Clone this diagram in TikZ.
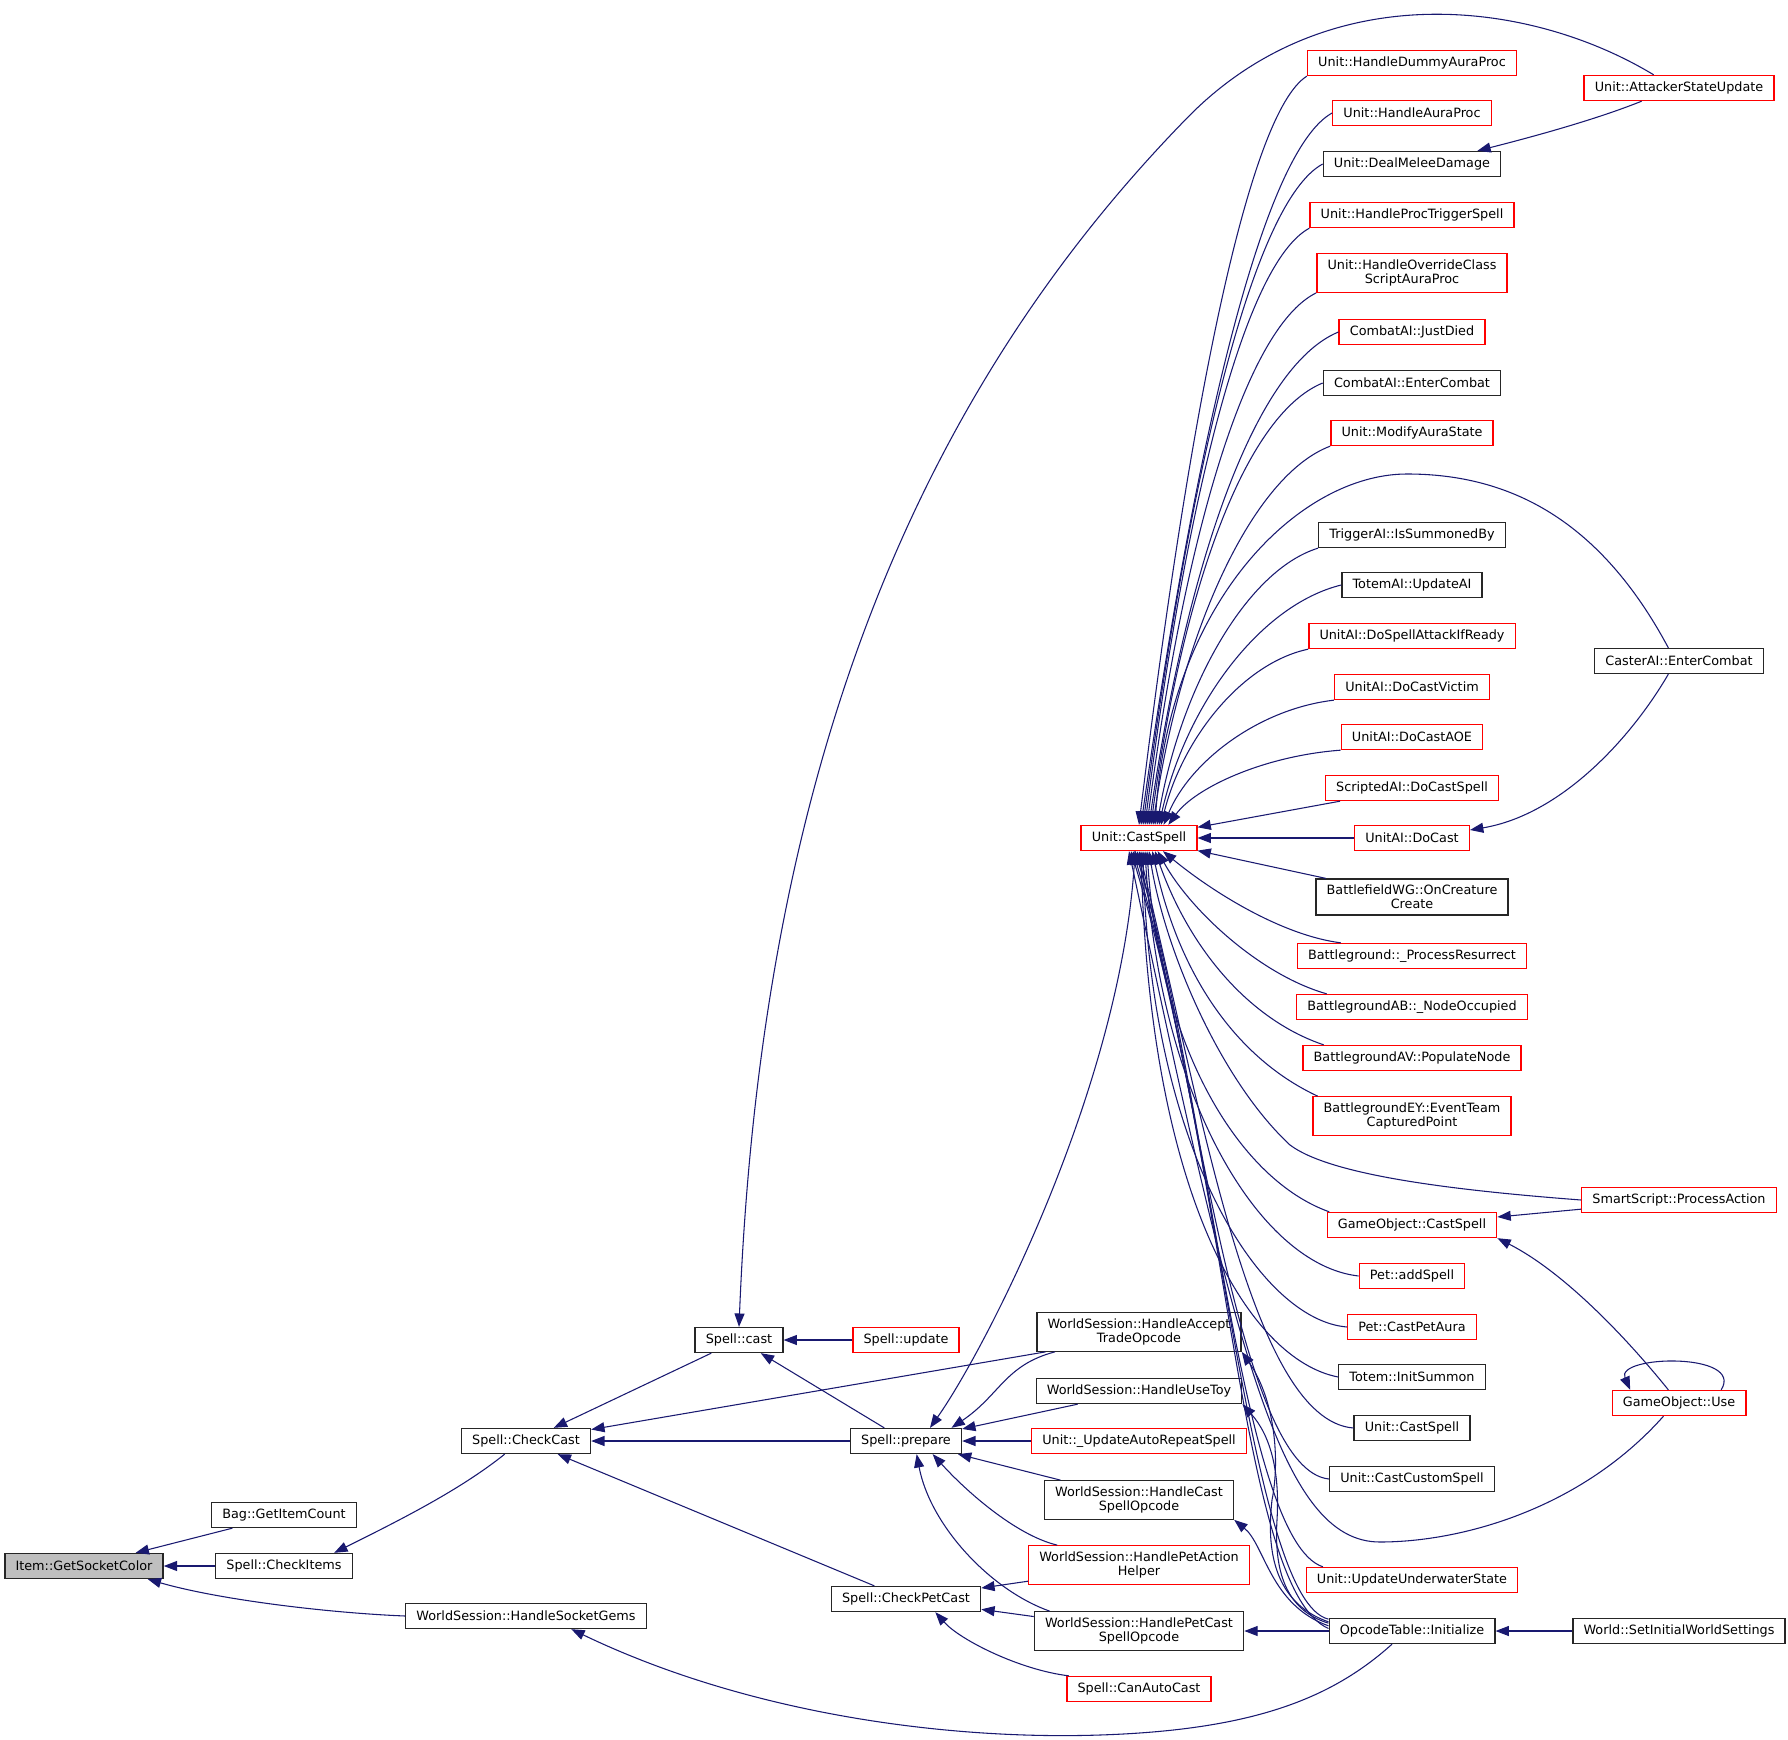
\documentclass[tikz,border=0pt]{standalone}
\usepackage{fontspec}
\setmainfont{DejaVu Sans}
\usepackage{xcolor}
\usetikzlibrary{arrows.meta,calc}

\definecolor{edgeblue}{HTML}{191970}
\definecolor{boxred}{HTML}{FF0000}
\definecolor{rootgray}{HTML}{BFBFBF}

\tikzset{
    fnbox/.style={draw=black!85, fill=white, line width=1pt, inner xsep=8pt, inner ysep=4.5pt,
        minimum height=18.75pt, align=center, font=\fontsize{9.6}{10.5}\selectfont},
    fnred/.style={fnbox, draw=boxred},
    fnroot/.style={fnbox, fill=rootgray},
    callarrow/.style={{Triangle[length=10pt,width=7.5pt]}-, draw=edgeblue, line width=0.8pt},
}

\begin{document}
\begin{tikzpicture}[x=0.75pt,y=-0.75pt]
        \useasboundingbox (0,0) rectangle (1788,1740);

        \node[fnroot] (item) at (84,1566) {Item::GetSocketColor};
        \node[fnbox] (bag) at (284,1515) {Bag::GetItemCount};
        \node[fnbox] (checkitems) at (284,1566) {Spell::CheckItems};
        \node[fnbox] (checkcast) at (526,1441) {Spell::CheckCast};
        \node[fnbox] (socketgems) at (526,1616) {WorldSession::HandleSocketGems};

        \node[fnbox] (cast) at (739,1340) {Spell::cast};
        \node[fnred] (update) at (906,1340) {Spell::update};
        \node[fnbox] (prepare) at (906,1441) {Spell::prepare};
        \node[fnbox] (checkpetcast) at (906,1599) {Spell::CheckPetCast};

        \node[fnbox] (accept) at (1139,1332) {WorldSession::HandleAccept\\TradeOpcode};
        \node[fnbox] (usetoy) at (1139,1391) {WorldSession::HandleUseToy};
        \node[fnred] (autorepeat) at (1139,1441) {Unit::\_UpdateAutoRepeatSpell};
        \node[fnbox] (handlecast) at (1139,1500) {WorldSession::HandleCast\\SpellOpcode};
        \node[fnred] (petaction) at (1139,1565) {WorldSession::HandlePetAction\\Helper};
        \node[fnbox] (petcast) at (1139,1631) {WorldSession::HandlePetCast\\SpellOpcode};
        \node[fnred] (canautocast) at (1139,1689) {Spell::CanAutoCast};
        \node[fnred] (castspell) at (1139,838) {Unit::CastSpell};

        \node[fnred] (dummyaura) at (1412,63) {Unit::HandleDummyAuraProc};
        \node[fnred] (auraproc) at (1412,113) {Unit::HandleAuraProc};
        \node[fnbox] (meleedmg) at (1412,164) {Unit::DealMeleeDamage};
        \node[fnred] (proctrigger) at (1412,215) {Unit::HandleProcTriggerSpell};
        \node[fnred] (overrideclass) at (1412,273) {Unit::HandleOverrideClass\\ScriptAuraProc};
        \node[fnred] (justdied) at (1412,332) {CombatAI::JustDied};
        \node[fnbox] (cbenter) at (1412,383) {CombatAI::EnterCombat};
        \node[fnred] (modaura) at (1412,433) {Unit::ModifyAuraState};
        \node[fnbox] (triggerai) at (1412,535) {TriggerAI::IsSummonedBy};
        \node[fnbox] (totemai) at (1412,585) {TotemAI::UpdateAI};
        \node[fnred] (spellattack) at (1412,636) {UnitAI::DoSpellAttackIfReady};
        \node[fnred] (castvictim) at (1412,687) {UnitAI::DoCastVictim};
        \node[fnred] (castaoe) at (1412,737) {UnitAI::DoCastAOE};
        \node[fnred] (scripted) at (1412,788) {ScriptedAI::DoCastSpell};
        \node[fnred] (docast) at (1412,838) {UnitAI::DoCast};
        \node[fnbox] (battlewg) at (1412,897) {BattlefieldWG::OnCreature\\Create};
        \node[fnred] (bgresurrect) at (1412,956) {Battleground::\_ProcessResurrect};
        \node[fnred] (bgab) at (1412,1007) {BattlegroundAB::\_NodeOccupied};
        \node[fnred] (bgav) at (1412,1058) {BattlegroundAV::PopulateNode};
        \node[fnred] (bgey) at (1412,1116) {BattlegroundEY::EventTeam\\CapturedPoint};
        \node[fnred] (gocast) at (1412,1225) {GameObject::CastSpell};
        \node[fnred] (addspell) at (1412,1276) {Pet::addSpell};
        \node[fnred] (petaura) at (1412,1327) {Pet::CastPetAura};
        \node[fnbox] (initsummon) at (1412,1377) {Totem::InitSummon};
        \node[fnbox] (unitcast2) at (1412,1428) {Unit::CastSpell};
        \node[fnbox] (castcustom) at (1412,1479) {Unit::CastCustomSpell};
        \node[fnred] (underwater) at (1412,1580) {Unit::UpdateUnderwaterState};
        \node[fnbox] (opcode) at (1412,1631) {OpcodeTable::Initialize};

        \node[fnred] (attacker) at (1679,88) {Unit::AttackerStateUpdate};
        \node[fnbox] (casterai) at (1679,661) {CasterAI::EnterCombat};
        \node[fnred] (smartscript) at (1679,1200) {SmartScript::ProcessAction};
        \node[fnred] (gouse) at (1679,1403) {GameObject::Use};
        \node[fnbox] (worldinit) at (1679,1631) {World::SetInitialWorldSettings};

        \draw[callarrow] (item) -- (bag);
        \draw[callarrow] (item) -- (checkitems);
        \draw[callarrow] ([xshift=-12pt]item.south east) .. controls (220,1600) and (330,1613) .. (socketgems.west);
        \draw[callarrow] ([xshift=-14pt]checkitems.north east) .. controls (400,1520) and (460,1490) .. ([xshift=-16pt]checkcast.south);
        \draw[callarrow] ([xshift=34pt]socketgems.south) .. controls (750,1715) and (950,1740) .. (1100,1735)
            .. controls (1250,1730) and (1330,1700) .. ([xshift=-15pt]opcode.south);

        \draw[callarrow] (checkcast) -- (cast);
        \draw[callarrow] (checkcast.10) -- (accept.192);
        \draw[callarrow] (checkcast) -- (prepare);
        \draw[callarrow] (checkcast) -- (checkpetcast);

        \draw[callarrow] (cast.north) .. controls (760,800) and (900,410) .. (1190,115)
            .. controls (1330,-25) and (1530,0) .. ([xshift=-19pt]attacker.north);
        \draw[callarrow] (cast) -- (update);
        \draw[callarrow] (cast) -- (prepare);

        \draw[callarrow] ([xshift=18pt]prepare.north) .. controls (985,1350) and (1125,1080) .. ([xshift=-3pt]castspell.south);
        \draw[callarrow] ([xshift=-8pt]prepare.north east) .. controls (1000,1395) and (1005,1365) .. ([xshift=14pt]accept.south west);
        \draw[callarrow] (prepare) -- (usetoy);
        \draw[callarrow] (prepare) -- (autorepeat);
        \draw[callarrow] (prepare) -- (handlecast);
        \draw[callarrow] ([xshift=20pt]prepare.south) .. controls (965,1490) and (1015,1535) .. ([xshift=22pt]petaction.north west);
        \draw[callarrow] ([xshift=8pt]prepare.south) .. controls (930,1525) and (990,1590) .. ([xshift=12pt]petcast.north west);

        \draw[callarrow] (checkpetcast) -- (petaction);
        \draw[callarrow] (checkpetcast) -- (petcast);
        \draw[callarrow] ([xshift=22pt]checkpetcast.south) .. controls (960,1640) and (1020,1670) .. ([xshift=2pt]canautocast.north west);

        \draw[callarrow] (accept.south east) .. controls (1275,1400) and (1280,1460) .. (1272,1500)
            .. controls (1265,1560) and (1280,1605) .. ([yshift=-3pt]opcode.north west);
        \draw[callarrow] (usetoy.south east) .. controls (1270,1435) and (1280,1470) .. (1277,1520)
            .. controls (1274,1570) and (1285,1610) .. ([yshift=-4pt]opcode.north west);
        \draw[callarrow] (handlecast.south east) .. controls (1265,1545) and (1270,1605) .. ([yshift=-6pt]opcode.north west);
        \draw[callarrow] (petcast) -- (opcode);
        \draw[callarrow] (opcode) -- (worldinit);

        \draw[callarrow] (castspell.north) .. controls (1189,413) and (1248,113) .. (dummyaura.south west);
        \draw[callarrow] ([xshift=1.5pt]castspell.north) .. controls (1196,437) and (1263,151) .. (auraproc.west);
        \draw[callarrow] ([xshift=3pt]castspell.north) .. controls (1190,470) and (1253,202) .. (meleedmg.west);
        \draw[callarrow] ([xshift=4.5pt]castspell.north) .. controls (1185,508) and (1243,264) .. (proctrigger.south west);
        \draw[callarrow] ([xshift=6pt]castspell.north) .. controls (1183,548) and (1243,329) .. (overrideclass.south west);
        \draw[callarrow] ([xshift=7.5pt]castspell.north) .. controls (1186,571) and (1253,367) .. (justdied.west);
        \draw[callarrow] ([xshift=9pt]castspell.north) .. controls (1181,600) and (1242,416) .. (cbenter.west);
        \draw[callarrow] ([xshift=10.5pt]castspell.north) .. controls (1180,636) and (1251,476) .. (modaura.south west);
        \draw[callarrow] ([xshift=12pt]castspell.north) .. controls (1170,600) and (1300,474) .. (1407,474)
            .. controls (1510,474) and (1600,520) .. ([xshift=-8pt]casterai.north);
        \draw[callarrow] ([xshift=13.5pt]castspell.north) .. controls (1181,686) and (1247,570) .. (triggerai.south west);
        \draw[callarrow] ([xshift=15pt]castspell.north) .. controls (1186,705) and (1260,605) .. (totemai.west);
        \draw[callarrow] ([xshift=16.5pt]castspell.north) .. controls (1183,737) and (1243,663) .. (spellattack.south west);
        \draw[callarrow] ([xshift=18.5pt]castspell.north) .. controls (1190,762) and (1258,709) .. (castvictim.south west);
        \draw[callarrow] ([xshift=22pt]castspell.north) .. controls (1195,788) and (1263,756) .. (castaoe.south west);
        \draw[callarrow] (castspell) -- (scripted);
        \draw[callarrow] (castspell) -- (docast);
        \draw[callarrow] (castspell) -- (battlewg);

        \draw[callarrow] ([xshift=18pt]castspell.south) .. controls (1210,890) and (1280,935) .. ([xshift=33pt]bgresurrect.north west);
        \draw[callarrow] ([xshift=14pt]castspell.south) .. controls (1190,910) and (1260,975) .. ([xshift=23pt]bgab.north west);
        \draw[callarrow] ([xshift=12pt]castspell.south) .. controls (1190,950) and (1250,1020) .. ([xshift=16pt]bgav.north west);
        \draw[callarrow] ([xshift=10pt]castspell.south) .. controls (1180,980) and (1240,1060) .. ([xshift=4pt]bgey.north west);
        \draw[callarrow] ([xshift=7.5pt]castspell.south) .. controls (1165,950) and (1220,1080) .. (1290,1145)
            .. controls (1330,1175) and (1450,1190) .. (smartscript.west);
        \draw[callarrow] ([xshift=6pt]castspell.south) .. controls (1160,1050) and (1240,1180) .. ([xshift=2pt]gocast.north west);
        \draw[callarrow] ([xshift=4.5pt]castspell.south) .. controls (1160,1100) and (1260,1265) .. (addspell.west);
        \draw[callarrow] ([xshift=3pt]castspell.south) .. controls (1150,1150) and (1260,1320) .. (petaura.west);
        \draw[callarrow] ([xshift=1.5pt]castspell.south) .. controls (1150,1200) and (1250,1360) .. (initsummon.west);
        \draw[callarrow] (castspell.south) .. controls (1200,1100) and (1250,1420) .. (unitcast2.west);
        \draw[callarrow] ([xshift=-1.5pt]castspell.south) .. controls (1200,1100) and (1240,1470) .. (castcustom.west);
        \draw[callarrow] ([xshift=-3pt]castspell.south) .. controls (1210,1100) and (1240,1540) .. ([xshift=13pt]underwater.north west);
        \draw[callarrow] ([xshift=-4.5pt]castspell.south) .. controls (1220,1150) and (1250,1600) .. ([yshift=-1pt]opcode.north west);
        \draw[callarrow] ([xshift=-6pt]castspell.south) .. controls (1230,1180) and (1240,1590) .. ([yshift=-8pt]opcode.north west);
        \draw[callarrow] ([xshift=-7.5pt]castspell.south) .. controls (1235,1350) and (1280,1542) .. (1380,1542)
            .. controls (1460,1542) and (1580,1510) .. ([xshift=39pt]gouse.south west);

        \draw[callarrow] ([xshift=-18pt]meleedmg.north east) .. controls (1540,135) and (1600,118) .. ([xshift=-28pt]attacker.south);
        \draw[callarrow] ([yshift=6pt]docast.east) .. controls (1560,815) and (1630,740) .. ([xshift=-8pt]casterai.south);
        \draw[callarrow] (gocast) -- (smartscript);
        \draw[callarrow] (gocast.south east) .. controls (1560,1270) and (1620,1330) .. ([xshift=-8pt]gouse.north);
        \draw[callarrow] ([xshift=14pt]gouse.north west) .. controls (1615,1355) and (1745,1352) .. ([xshift=-19pt]gouse.north east);
    \end{tikzpicture}
\end{document}
